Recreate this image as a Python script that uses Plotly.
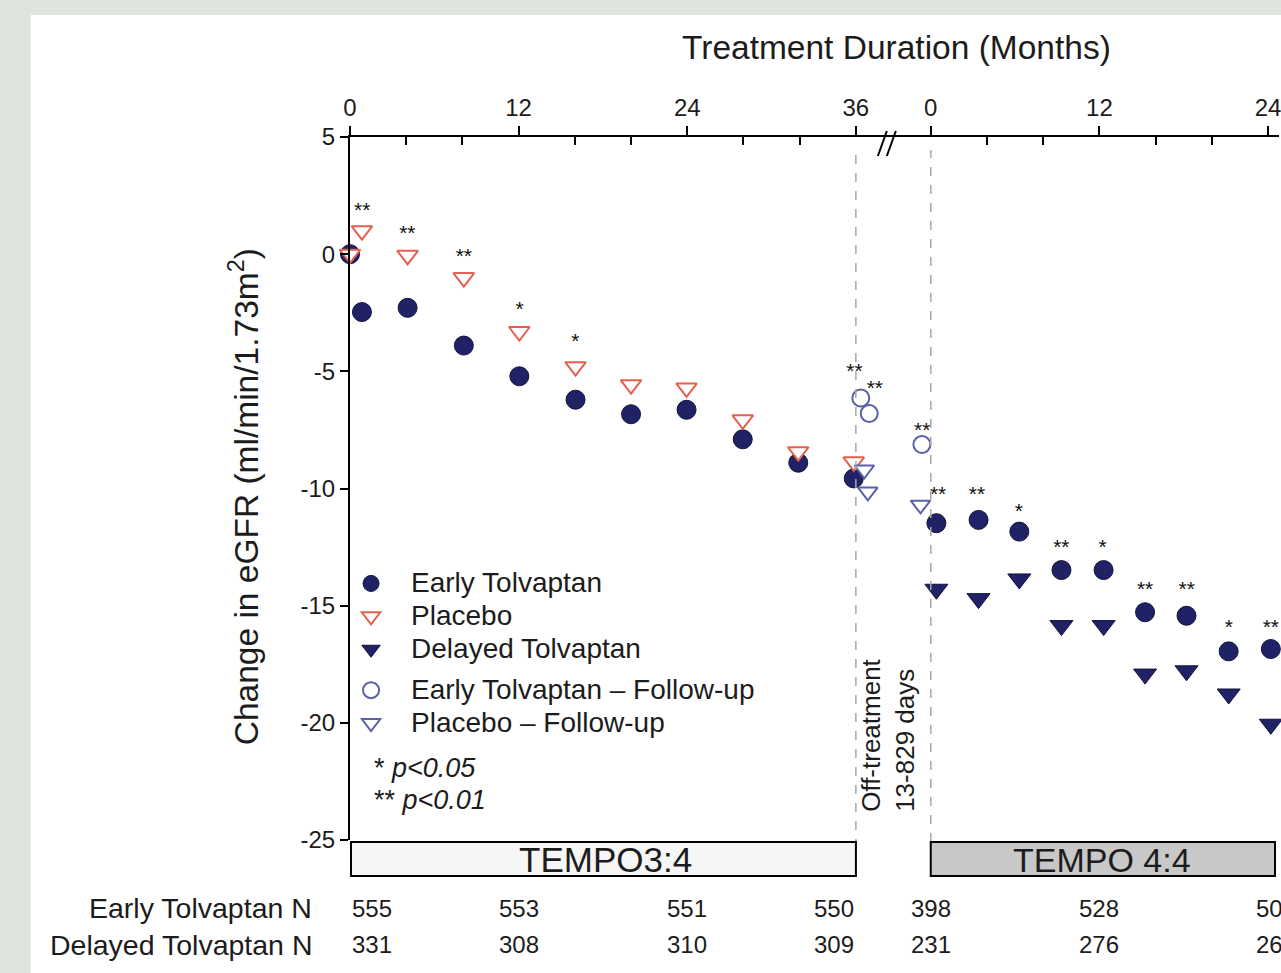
import plotly.graph_objects as go

# ---------------- data ----------------
RIGHT0 = 41.33          # axis position of month 0 of the TEMPO 4:4 block

months_left = [0, 0.85, 4.1, 8.1, 12.05, 16.05, 20.0, 23.95, 27.95, 31.9, 35.85]
early_left = [0, -2.47, -2.29, -3.9, -5.21, -6.21, -6.83, -6.64, -7.9, -8.9, -9.57]
placebo_left = [0, 1.0, -0.05, -1.0, -3.3, -4.8, -5.57, -5.71, -7.07, -8.43, -8.86]

months_right = [0.4, 3.4, 6.3, 9.3, 12.3, 15.25, 18.2, 21.2, 24.2]
early_right = [-11.48, -11.34, -11.84, -13.48, -13.48, -15.28, -15.43, -16.95, -16.85]
delayed_right = [-14.3, -14.7, -13.86, -15.85, -15.85, -17.92, -17.78, -18.77, -20.06]

fu_early_x = [36.35, 36.95, 40.7]
fu_early_y = [-6.14, -6.8, -8.12]
fu_placebo_x = [36.6, 36.85, 40.6]
fu_placebo_y = [-9.2, -10.14, -10.7]

star_x = [0.87, 4.08, 8.1, 12.06, 16.04, 35.9, 37.35,
          40.72, 41.85, 44.62, 47.59, 50.62, 53.55, 56.58, 59.54, 62.55, 65.53]
star_y = [1.97, 1.0, 0.0, -2.24, -3.6, -4.89, -5.6,
          -7.41, -10.16, -10.16, -10.87, -12.39, -12.39, -14.19, -14.19, -15.81, -15.81]
star_txt = ['**', '**', '**', '*', '*', '**', '**',
            '**', '**', '**', '*', '**', '*', '**', '**', '*', '**']

top_tick_vals = [0, 12, 24, 36, RIGHT0, RIGHT0 + 12, RIGHT0 + 24]
top_tick_text = ['0', '12', '24', '36', '0', '12', '24']
minor_vals = [4, 8, 16, 20, 28, 32, RIGHT0 + 4, RIGHT0 + 8, RIGHT0 + 16, RIGHT0 + 20]
y_ticks = [-25, -20, -15, -10, -5, 0, 5]
y_tick_text = ['-25', '-20', '-15', '-10', '-5', '0', '5']

n_rows = ['Early Tolvaptan N', 'Delayed Tolvaptan N']
early_n = ['555', '553', '551', '550', '398', '528', '50']
delayed_n = ['331', '308', '310', '309', '231', '276', '26']
n_pos = [0, 12, 24, 36, RIGHT0, RIGHT0 + 12, RIGHT0 + 23.0]
n_anchor = ['left', 'center', 'center', 'right', 'center', 'center', 'left']

# ---------------- geometry ----------------
W, H = 1281, 973
L, R, T, B = 350, 1281, 137, 840
X_MAX = RIGHT0 + 24 + 11 / 14.08
STAR_DROP = 0.17


def fx(px):
    return (px - L) / (R - L)


def fy(py):
    return (B - py) / (B - T)


FONT = 'Liberation Sans, Arial, sans-serif'
TXT = '#1c1c1c'
NAVY = '#1f2365'
RED = '#e5604e'
FU = '#5b60a8'


def big(s):
    return '<span style="font-size:28px">' + s + '</span>'


fig = go.Figure()

fig.add_trace(go.Scatter(
    x=months_left + [RIGHT0 + m for m in months_right],
    y=early_left + early_right,
    mode='markers', name=big('Early Tolvaptan'), legendgroup='a',
    marker=dict(symbol='circle', size=19, color=NAVY, line=dict(color='#12143c', width=1)),
    cliponaxis=False))
fig.add_trace(go.Scatter(
    x=months_left, y=placebo_left,
    mode='markers', name=big('Placebo'), legendgroup='a',
    marker=dict(symbol='triangle-down', size=18, color='white', line=dict(color=RED, width=2)),
    cliponaxis=False))
fig.add_trace(go.Scatter(
    x=[RIGHT0 + m for m in months_right], y=delayed_right,
    mode='markers', name=big('Delayed Tolvaptan'), legendgroup='a',
    marker=dict(symbol='triangle-down', size=20, color=NAVY, line=dict(color='#12143c', width=1)),
    cliponaxis=False))
fig.add_trace(go.Scatter(
    x=fu_early_x, y=fu_early_y,
    mode='markers', name=big('Early Tolvaptan \u2013 Follow-up'), legendgroup='b',
    marker=dict(symbol='circle', size=17, color='white', line=dict(color=FU, width=2)),
    cliponaxis=False))
fig.add_trace(go.Scatter(
    x=fu_placebo_x, y=fu_placebo_y,
    mode='markers', name=big('Placebo \u2013 Follow-up'), legendgroup='b',
    marker=dict(symbol='triangle-down', size=17, color='white', line=dict(color=FU, width=2)),
    cliponaxis=False))
fig.add_trace(go.Scatter(
    x=star_x, y=[v - STAR_DROP for v in star_y], text=star_txt, mode='text', showlegend=False,
    textfont=dict(family=FONT, size=21, color='#111111'), cliponaxis=False,
    hoverinfo='skip'))

shapes = [
    # white panel
    dict(type='rect', xref='paper', yref='paper', x0=fx(30), x1=fx(1300), y0=fy(990), y1=fy(15),
         fillcolor='white', line=dict(width=0), layer='below'),
    # dashed separators
    dict(type='line', xref='x', yref='paper', x0=36, x1=36, y0=fy(848), y1=fy(150),
         line=dict(color='#a8a8a8', width=1.5, dash='dash')),
    dict(type='line', xref='x', yref='paper', x0=RIGHT0, x1=RIGHT0, y0=fy(842), y1=fy(150),
         line=dict(color='#a8a8a8', width=1.5, dash='dash')),
    # axis break
    dict(type='line', xref='paper', yref='paper', x0=fx(879), x1=fx(888), y0=fy(156), y1=fy(131),
         line=dict(color='black', width=2)),
    dict(type='line', xref='paper', yref='paper', x0=fx(888), x1=fx(897), y0=fy(156), y1=fy(131),
         line=dict(color='black', width=2)),
    # study boxes
    dict(type='rect', xref='paper', yref='paper', x0=fx(351), x1=fx(857), y0=fy(876), y1=fy(842),
         fillcolor='#f6f6f6', line=dict(color='black', width=2)),
    dict(type='rect', xref='paper', yref='paper', x0=fx(932), x1=fx(1277), y0=fy(876), y1=fy(842),
         fillcolor='#c8c8c8', line=dict(color='black', width=2)),
]

ann = [
    dict(text='Treatment Duration (Months)', x=fx(898), y=fy(48), font=dict(size=33.5)),
    dict(text='Change in eGFR (ml/min/1.73m<sup>2</sup>)', x=fx(244), y=fy(497), textangle=-90,
         font=dict(size=33.5)),
    dict(text='TEMPO3:4', x=fx(606), y=fy(860), font=dict(size=35)),
    dict(text='TEMPO 4:4', x=fx(1104), y=fy(860), font=dict(size=34)),
    dict(text='Off-treatment<br>13-829 days', x=fx(889), y=fy(735), textangle=-90, align='left',
         font=dict(size=26)),
    dict(text='* <i>p&lt;0.05</i>', x=fx(372), y=fy(768), xanchor='left', font=dict(size=27)),
    dict(text='** <i>p&lt;0.01</i>', x=fx(372), y=fy(800), xanchor='left', font=dict(size=27)),
    dict(text=n_rows[0], x=fx(314), y=fy(908), xanchor='right', font=dict(size=28.5)),
    dict(text=n_rows[1], x=fx(314), y=fy(945), xanchor='right', font=dict(size=28.5)),
]
for i, pos in enumerate(n_pos):
    for row_y, vals in ((908, early_n), (945, delayed_n)):
        ann.append(dict(text=vals[i], x=pos, xref='x', y=fy(row_y), xanchor=n_anchor[i],
                        font=dict(size=24)))

annotations = []
for a in ann:
    d = dict(xref='paper', yref='paper', showarrow=False, xanchor='center', yanchor='middle')
    d.update(a)
    f = dict(family=FONT, color=TXT)
    f.update(a.get('font', {}))
    d['font'] = f
    annotations.append(d)

fig.update_layout(
    width=W, height=H, autosize=False,
    margin=dict(l=L, r=W - R, t=T, b=H - B, pad=0),
    paper_bgcolor='#dee5df', plot_bgcolor='white',
    font=dict(family=FONT, color=TXT),
    shapes=shapes, annotations=annotations,
    legend=dict(x=fx(331), y=fy(562), xanchor='left', yanchor='top', bgcolor='rgba(0,0,0,0)',
                font=dict(size=23, color=TXT, family=FONT), tracegroupgap=8, itemwidth=70,
                traceorder='grouped'),
    xaxis=dict(side='top', range=[0, X_MAX], tickmode='array', tickvals=top_tick_vals,
               ticktext=top_tick_text, ticks='outside', ticklen=9, tickwidth=2, tickcolor='black',
               showline=True, linecolor='black', linewidth=2, showgrid=False, zeroline=False,
               tickfont=dict(size=24, color=TXT), ticklabeloverflow='allow',
               minor=dict(tickmode='array', tickvals=minor_vals, ticks='inside', ticklen=8,
                          tickwidth=2, tickcolor='black', showgrid=False)),
    yaxis=dict(range=[-25, 5], tickmode='array', tickvals=y_ticks, ticktext=y_tick_text,
               ticks='outside', ticklen=8, tickwidth=2, tickcolor='black', showline=True,
               linecolor='black', linewidth=2, showgrid=False, zeroline=False,
               tickfont=dict(size=24, color=TXT)),
)

fig.write_html('out.html')
